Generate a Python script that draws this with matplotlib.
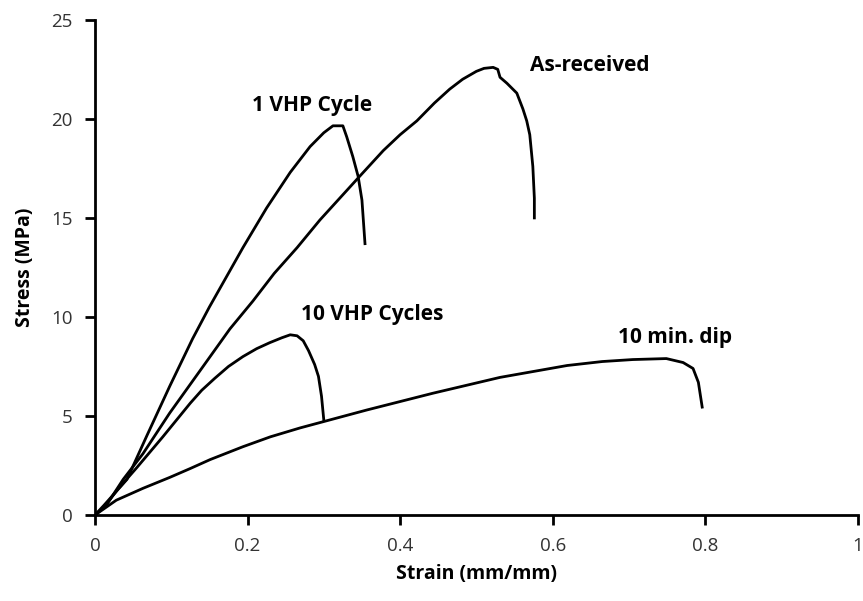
import matplotlib
matplotlib.use("Agg")
import matplotlib.pyplot as plt
from matplotlib.ticker import FuncFormatter

plt.rcParams['font.family'] = ['Open Sans', 'DejaVu Sans']

# stress-strain data (strain mm/mm, stress MPa)
as_received_strain = [0.0, 0.015, 0.037, 0.063, 0.098, 0.138, 0.177, 0.207, 0.235, 0.265,
                      0.295, 0.321, 0.347, 0.378, 0.400, 0.422, 0.445, 0.465, 0.482, 0.500,
                      0.510, 0.522, 0.528, 0.531, 0.540, 0.553, 0.561, 0.566, 0.570, 0.574,
                      0.576, 0.576]
as_received_stress = [0.0, 0.5, 1.8, 3.1, 5.15, 7.3, 9.4, 10.8, 12.2, 13.5,
                      14.9, 16.0, 17.1, 18.4, 19.2, 19.9, 20.8, 21.5, 22.0, 22.4,
                      22.55, 22.6, 22.5, 22.1, 21.8, 21.3, 20.5, 19.9, 19.2, 17.6,
                      16.0, 15.0]

vhp1_strain = [0.0, 0.012, 0.042, 0.068, 0.098, 0.128, 0.150, 0.172, 0.194, 0.225,
               0.256, 0.282, 0.300, 0.312, 0.325, 0.330, 0.338, 0.345, 0.350, 0.354]
vhp1_stress = [0.0, 0.5, 1.8, 4.0, 6.5, 8.9, 10.5, 12.0, 13.5, 15.5,
               17.3, 18.6, 19.3, 19.65, 19.65, 19.1, 18.1, 17.1, 15.9, 13.7]

vhp10_strain = [0.0, 0.012, 0.030, 0.055, 0.089, 0.125, 0.140, 0.157, 0.175, 0.194,
                0.212, 0.229, 0.245, 0.256, 0.265, 0.273, 0.280, 0.288, 0.293, 0.297,
                0.300]
vhp10_stress = [0.0, 0.4, 1.3, 2.4, 3.95, 5.65, 6.3, 6.9, 7.5, 8.0,
                8.4, 8.7, 8.95, 9.1, 9.05, 8.8, 8.3, 7.6, 7.0, 6.0,
                4.8]

dip_strain = [0.0, 0.028, 0.063, 0.098, 0.125, 0.151, 0.194, 0.230, 0.269, 0.356,
              0.443, 0.531, 0.619, 0.665, 0.705, 0.749, 0.771, 0.784, 0.791, 0.796]
dip_stress = [0.0, 0.75, 1.35, 1.9, 2.35, 2.8, 3.45, 3.95, 4.4, 5.3,
              6.15, 6.95, 7.55, 7.75, 7.85, 7.9, 7.7, 7.4, 6.7, 5.45]

curves = [(as_received_strain, as_received_stress), (vhp1_strain, vhp1_stress),
          (vhp10_strain, vhp10_stress), (dip_strain, dip_stress)]

fig = plt.figure(figsize=(8.63, 6.01), dpi=100)
ax = fig.add_axes([0.110, 0.143, 0.884, 0.824])

for xs, ys in curves:
    ax.plot(xs, ys, color='black', lw=2, solid_joinstyle='round')

ax.set_xlim(0, 1)
ax.set_ylim(0, 25)
ax.set_xticks([0, 0.2, 0.4, 0.6, 0.8, 1])
ax.set_yticks([0, 5, 10, 15, 20, 25])
ax.xaxis.set_major_formatter(FuncFormatter(lambda v, p: f"{v:g}"))
for s in ['top', 'right']:
    ax.spines[s].set_visible(False)
for s in ['left', 'bottom']:
    ax.spines[s].set_linewidth(2)
ax.tick_params(direction='out', length=7, width=2, labelsize=13.5, colors='black',
               labelcolor='#333333', pad=9)

ax.set_xlabel("Strain (mm/mm)", fontsize=14, fontweight='bold', labelpad=6)
ax.set_ylabel("Stress (MPa)", fontsize=14, fontweight='bold', labelpad=12)

lab = dict(fontsize=15, fontweight='bold', ha='center', va='center')
ax.text(0.284, 20.7, "1 VHP Cycle", **lab)
ax.text(0.649, 22.7, "As-received", **lab)
ax.text(0.363, 10.1, "10 VHP Cycles", **lab)
ax.text(0.760, 8.94, "10 min. dip", **lab)

fig.savefig("out.png", dpi=100)
